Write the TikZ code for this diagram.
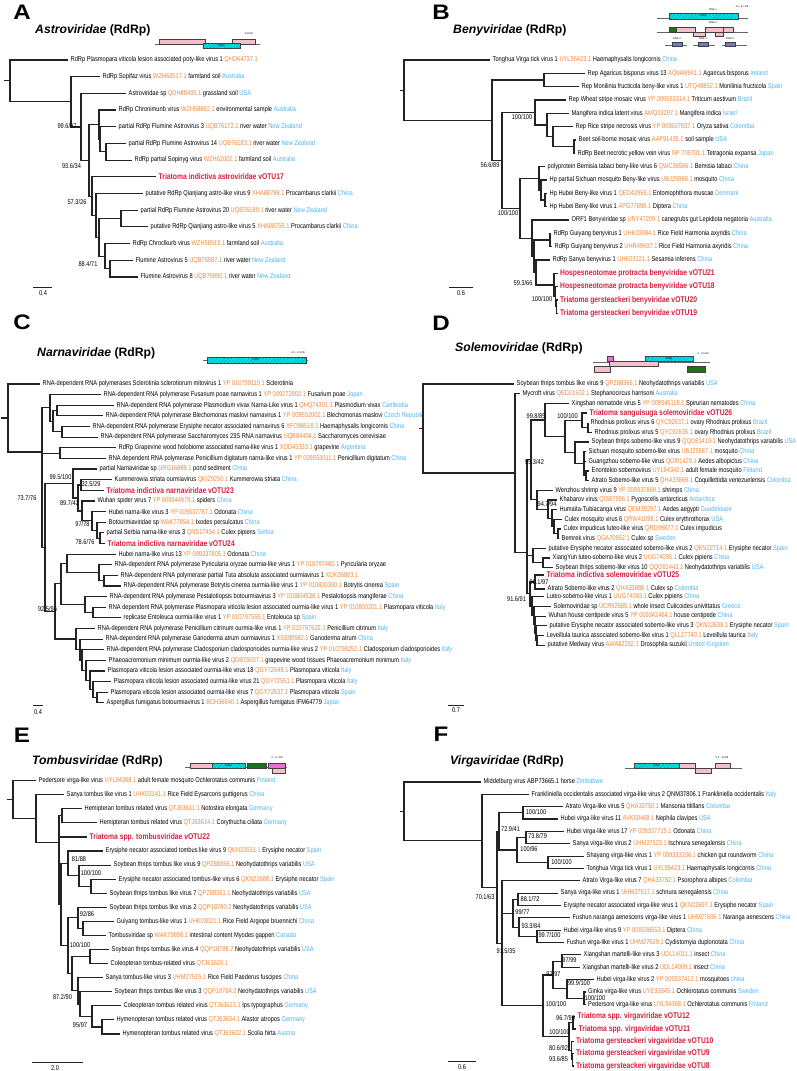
\documentclass[tikz,border=0pt]{standalone}
\usepackage{fontspec}
\setmainfont{Liberation Sans}
\newfontfamily\leaffont[FakeStretch=0.815]{Liberation Sans}
\newfontfamily\panelfont[FakeStretch=1.15]{Liberation Sans}
\usetikzlibrary{patterns.meta}
\definecolor{acco}{RGB}{242,133,54}
\definecolor{ctryc}{RGB}{77,178,236}
\definecolor{vred}{RGB}{214,31,61}
\definecolor{treec}{RGB}{35,35,35}
\definecolor{gpink}{RGB}{246,190,200}
\definecolor{gcyan}{RGB}{0,228,238}
\definecolor{ggreen}{RGB}{25,115,25}
\definecolor{gmag}{RGB}{228,110,220}
\definecolor{gpurp}{RGB}{118,124,186}
\newcommand\acc[1]{\textcolor{acco}{#1}}
\newcommand\ctry[1]{\textcolor{ctryc}{#1}}
\tikzset{
 br/.style={line width=1.15pt, draw=treec},
 lbl/.style={anchor=west, inner sep=0pt, font=\leaffont\fontsize{7}{8}\selectfont, text=black},
 rlbl/.style={anchor=west, inner sep=0pt, font=\leaffont\bfseries\fontsize{8.3}{9}\selectfont, text=vred},
 bs/.style={inner sep=0pt, font=\leaffont\fontsize{6.9}{8}\selectfont},
 ttl/.style={anchor=west, inner sep=0pt, font=\bfseries\fontsize{12.2}{14}\selectfont},
 plet/.style={inner sep=0pt, font=\panelfont\bfseries\fontsize{21}{21}\selectfont},
 sbar/.style={line width=0.9pt, draw=treec},
 gline/.style={draw=black!60, line width=0.35pt},
 gbox/.style={draw=black!75, line width=0.3pt},
 pinkbox/.style={gbox, fill=gpink},
 cyanbox/.style={gbox, fill=gcyan, postaction={pattern={Lines[angle=45,distance=2.5pt,line width=0.25pt]}, pattern color=black!45!gcyan}},
 greenbox/.style={gbox, fill=ggreen},
 magbox/.style={gbox, fill=gmag},
 purpbox/.style={gbox, fill=gpurp},
 tiny/.style={inner sep=0pt, font=\fontsize{2.6}{3}\selectfont},
}
\newcommand\Lf[4]{\coordinate (#1) at ({#2},{#3}); \node[lbl] (#1t) at ([xshift=2.5pt]#1) {#4};}
\newcommand\Lr[4]{\coordinate (#1) at ({#2},{#3}); \node[rlbl] (#1t) at ([xshift=2.5pt]#1) {#4};}
\newcommand\In[3]{\coordinate (#1) at ({#2},{#3});}
\newcommand\E[2]{\foreach \kid in {#2}{\draw[br] (#1) |- (\kid);}}
\newcommand\Bs[4]{\node[bs] (#1) at (#2,#3) {#4};}
\def\ya#1{60+16.69*(#1-1)}
\def\yb#1{60+13.33*(#1-1)}
\def\yc#1{384+10.63*(#1-1)}
\def\yd#1{384+9.67*(#1-1)}
\def\ye#1{780.7+14.07*(#1-1)}
\def\yf#1{782+12.35*(#1-1)}
\begin{document}
\begin{tikzpicture}[x=1pt,y=-1pt]
\useasboundingbox (0,0) rectangle (797,1071);
% ---------------- panel letters and titles
\node[plet] (LA) at (22,12) {A};
\node[plet] (LB) at (441,12) {B};
\node[plet] (LC) at (22,322) {C};
\node[plet] (LD) at (441,323) {D};
\node[plet] (LE) at (22,735) {E};
\node[plet] (LF) at (441,734) {F};
\node[ttl] (TA) at (35,30) {\textit{Astroviridae} (RdRp)};
\node[ttl] (TB) at (453,30) {\textit{Benyviridae} (RdRp)};
\node[ttl] (TC) at (37,353) {\textit{Narnaviridae} (RdRp)};
\node[ttl] (TD) at (455,348) {\textit{Solemoviridae} (RdRp)};
\node[ttl] (TE) at (32,761) {\textit{Tombusviridae} (RdRp)};
\node[ttl] (TF) at (450,761) {\textit{Virgaviridae} (RdRp)};
% ---------------- genome sketches
% A
\draw[gline] (155,43.7) -- (260,43.7);
\draw[pinkbox] (159,39) rectangle (205,44);
\draw[pinkbox] (232,39) rectangle (255,44);
\draw[cyanbox] (203,43.5) rectangle (240,48.5);
\node[tiny] (gA1) at (221.5,46) {RdRp};
\node[tiny] (gA2) at (249,33.5) {6.8 Kb};
% B
\draw[gline] (657,18) -- (748,18);
\draw[cyanbox] (669,13) rectangle (738,19);
\node[tiny] (gB0) at (703.5,16) {RdRp};
\node[tiny] (gB1) at (713,10) {RNA 1};
\node[tiny] (gB2) at (742,7) {13 - 6.7 Kb};
\draw[gline] (657,32) -- (748,32);
\draw[greenbox] (669,27) rectangle (676,32);
\draw[pinkbox] (676,27) rectangle (695,32);
\draw[pinkbox] (693,32) rectangle (705,36);
\draw[pinkbox] (705,27) rectangle (725,32);
\draw[pinkbox] (715,32) rectangle (723,36);
\draw[pinkbox] (723,27) rectangle (733,32);
\node[tiny] (gB3) at (713,23) {RNA 2};
\draw[gline] (665,45.5) -- (687,45.5);
\draw[purpbox] (672,42) rectangle (682,46);
\node[tiny] (gB4) at (677,39) {RNA 3};
\draw[gline] (693,45.5) -- (715,45.5);
\draw[purpbox] (698,42) rectangle (708,46);
\node[tiny] (gB5) at (703,39) {RNA 4};
\draw[gline] (722,45.5) -- (747,45.5);
\draw[purpbox] (725,42) rectangle (735,46);
\node[tiny] (gB6) at (730,39) {RNA 5};
% C
\draw[gline] (203,360) -- (308,360);
\draw[cyanbox] (207,357) rectangle (306,363);
\node[tiny] (gC1) at (256,360) {RdRp};
\node[tiny] (gC2) at (298,353) {2.3 - 2.9 Kb};
% D
\draw[gline] (593,362) -- (710,362);
\draw[magbox] (607,356) rectangle (613,361);
\draw[cyanbox] (645,356) rectangle (693,361);
\node[tiny] (gD1) at (669,358.5) {RdRp};
\draw[pinkbox] (609,361) rectangle (658,366);
\draw[pinkbox] (594,366) rectangle (610,372);
\draw[greenbox] (687,366) rectangle (705,372);
\node[tiny] (gD2) at (703,354) {4 - 4.5 Kb};
% E
\draw[gline] (185,767) -- (287,767);
\draw[pinkbox] (190,763) rectangle (212,768);
\draw[cyanbox] (212,763) rectangle (245,768);
\node[tiny] (gE1) at (228.5,765.5) {RdRp};
\draw[greenbox] (247,763) rectangle (266,768);
\draw[magbox] (268,763) rectangle (285,768);
\draw[pinkbox] (272,768) rectangle (285,773);
\node[tiny] (gE2) at (277,758) {4 - 4.7 Kb};
% F
\draw[gline] (625,768) -- (742,768);
\draw[cyanbox] (634,763) rectangle (679,768);
\node[tiny] (gF1) at (656.5,765.5) {RdRp};
\draw[pinkbox] (679,763) rectangle (695,768);
\draw[pinkbox] (695,768) rectangle (711,773);
\draw[pinkbox] (715,763) rectangle (730,768);
\node[tiny] (gF2) at (722,758) {6.3 - 10 Kb};
% ================= PANEL A
\Lf{a1}{68}{\ya{1}}{RdRp Plasmopara viticola lesion associated poty-like virus 1 \acc{QHD64737.1}}
\Lf{a2}{100}{\ya{2}}{RdRp Sopifaz virus \acc{WZH62017.1} farmland soil \ctry{Australia}}
\Lf{a3}{126}{\ya{3}}{Astroviridae sp \acc{QDH88435.1} grassland soil \ctry{USA}}
\Lf{a4}{116}{\ya{4}}{RdRp Chronimunb virus \acc{WZH58882.1} environmental sample \ctry{Australia}}
\Lf{a5}{116}{\ya{5}}{partial RdRp Flumine Astrovirus 3 \acc{UQB76172.1} river water \ctry{New Zealand}}
\Lf{a6}{126}{\ya{6}}{partial RdRp Flumine Astrovirus 14 \acc{UQB76183.1} river water \ctry{New Zealand}}
\Lf{a7}{132}{\ya{7}}{RdRp partial Sopinyg virus \acc{WZH62002.1} farmland soil \ctry{Australia}}
\Lr{a8}{156}{\ya{8}}{Triatoma indictiva astroviridae vOTU17}
\Lf{a9}{143}{\ya{9}}{putative RdRp Qianjiang astro-like virus 9 \acc{XHA88788.1} Procambarus clarkii \ctry{China}}
\Lf{a10}{138}{\ya{10}}{partial RdRp Flumine Astrovirus 20 \acc{UQB76189.1} river water \ctry{New Zealand}}
\Lf{a11}{148}{\ya{11}}{putative RdRp Qianjiang astro-like virus 5 \acc{XHA88755.1} Procambarus clarkii \ctry{China}}
\Lf{a12}{130}{\ya{12}}{RdRp Chroclkurb virus \acc{WZH58519.1} farmland soil \ctry{Australia}}
\Lf{a13}{133}{\ya{13}}{Flumine Astrovirus 5 \acc{UQB75987.1} river water \ctry{New Zealand}}
\Lf{a14}{138}{\ya{14}}{Flumine Astrovirus 8 \acc{UQB75990.1} river water \ctry{New Zealand}}
\In{aN6}{106}{\ya{6.5}} \In{aN5}{100}{\ya{5.75}} \In{aN4}{99}{\ya{4.875}}
\In{aN11}{110}{\ya{13.5}} \In{aN10}{105}{\ya{12.75}} \In{aN9}{121}{\ya{10.5}}
\In{aN8b}{99}{\ya{11.625}} \In{aN8}{96}{\ya{10.31}} \In{aN7}{92}{\ya{9.16}}
\In{aN3}{89}{\ya{7.02}} \In{aN2}{81}{\ya{5.01}} \In{aN1}{71}{\ya{3.5}} \In{aR}{10}{\ya{2.25}}
\In{aR0}{4}{\ya{2.25}}
\draw[br] (aR0) -- (aR);
\E{aR}{a1,aN1} \E{aN1}{a2,aN2} \E{aN2}{a3,aN3} \E{aN3}{aN4,aN7} \E{aN4}{a4,aN5}
\E{aN5}{a5,aN6} \E{aN6}{a6,a7} \E{aN7}{a8,aN8} \E{aN8}{a9,aN8b} \E{aN8b}{aN9,aN10}
\E{aN9}{a10,a11} \E{aN10}{a12,aN11} \E{aN11}{a13,a14}
\Bs{aB1}{67}{126}{99.6/97} \Bs{aB2}{71.5}{166}{93.6/34} \Bs{aB3}{77}{202}{57.3/26} \Bs{aB4}{88}{264}{88.4/71}
\In{aS1}{33}{287} \In{aS2}{52}{287}
\draw[sbar] (aS1) -- (aS2);
\node[bs] (aSt) at (43,293.5) {0.4};
% ================= PANEL B
\Lf{b1}{490}{\yb{1}}{Tonghua Virga tick virus 1 \acc{UYL95423.1} Haemaphysalis longicornis \ctry{China}}
\Lf{b2}{585}{\yb{2}}{Rep Agaricus bisporus virus 13 \acc{AQM49941.1} Agaricus bisporus \ctry{Ireland}}
\Lf{b3}{579}{\yb{3}}{Rep Monilinia fructicola beny-like virus 1 \acc{UTQ48852.1} Monilinia fructicola \ctry{Spain}}
\Lf{b4}{566}{\yb{4}}{Rep Wheat stripe mosaic virus \acc{YP 009553314.1} Triticum aestivum \ctry{Brazil}}
\Lf{b5}{569}{\yb{5}}{Mangifera indica latent virus \acc{AMQ23297.1} Mangifera indica \ctry{Israel}}
\Lf{b6}{573}{\yb{6}}{Rep Rice stripe necrosis virus \acc{YP 009507937.1} Oryza sativa \ctry{Colombia}}
\Lf{b7}{576}{\yb{7}}{Beet soil-borne mosaic virus \acc{AAF91435.1} soil sample \ctry{USA}}
\Lf{b8}{575}{\yb{8}}{RdRp Beet necrotic yellow vein virus \acc{NP 705701.1} Tetragonia expansa \ctry{Japan}}
\Lf{b9}{545}{\yb{9}}{polyprotein Bemisia tabaci beny-like virus 6 \acc{QWC36506.1} Bemisia tabaci \ctry{China}}
\Lf{b10}{547}{\yb{10}}{Hp partial Sichuan mosquito Beny-like virus \acc{UBJ25988.1} mosquito \ctry{China}}
\Lf{b11}{547}{\yb{11}}{Hp Hubei Beny-like virus 1 \acc{QED42955.1} Entomophthora muscae \ctry{Denmark}}
\Lf{b12}{547}{\yb{12}}{Hp Hubei Beny-like virus 1 \acc{APG77890.1} Diptera \ctry{China}}
\Lf{b13}{569}{\yb{13}}{ORF1 Benyviridae sp \acc{UNY47209.1} canegrubs gut Lepidiota negatoria \ctry{Australia.}}
\Lf{b14}{551}{\yb{14}}{RdRp Guiyang benyvirus 1 \acc{UHK03084.1} Rice Field Harmonia axyridis \ctry{China}}
\Lf{b15}{552}{\yb{15}}{RdRp Guiyang benyvirus 2 \acc{UHR49697.1} Rice Field Harmonia axyridis \ctry{China}}
\Lf{b16}{550}{\yb{16}}{RdRp Sanya benyvirus 1 \acc{UHK03121.1} Sesamia inferens \ctry{China}}
\Lr{b17}{557.5}{\yb{17}}{Hospesneotomae protracta benyviridae vOTU21}
\Lr{b18}{557.5}{\yb{18}}{Hospesneotomae protracta benyviridae vOTU18}
\Lr{b19}{557.5}{\yb{19}}{Triatoma gersteackeri benyviridae vOTU20}
\Lr{b20}{557.5}{\yb{20}}{Triatoma gersteackeri benyviridae vOTU19}
\In{bN8}{574}{\yb{7.5}} \In{bN7}{553}{\yb{6.75}} \In{bN6}{547}{\yb{5.875}} \In{bN4}{535}{\yb{4.94}}
\In{bN2}{544}{\yb{2.5}}
\In{bN12}{545}{\yb{11.5}} \In{bN11}{541}{\yb{10.75}} \In{bN10}{539}{\yb{9.875}}
\In{bG}{550}{\yb{14.5}}
\In{bV3}{556.5}{\yb{19.5}} \In{bV2}{555.5}{\yb{18.75}} \In{bV}{554}{\yb{17.875}}
\In{bN15}{536}{\yb{16.94}} \In{bN14}{534}{\yb{15.72}} \In{bN13}{532}{\yb{14.36}}
\In{bN9}{520}{\yb{12.12}} \In{bN3}{502}{\yb{8.53}} \In{bN1}{492}{\yb{5.52}} \In{bR}{404}{\yb{3.26}}
\In{bR0}{400}{\yb{3.26}}
\draw[br] (bR0) -- (bR);
\E{bR}{b1,bN1} \E{bN1}{bN2,bN3} \E{bN2}{b2,b3} \E{bN3}{bN4,bN9} \E{bN4}{b4,bN6}
\E{bN6}{b5,bN7} \E{bN7}{b6,bN8} \E{bN8}{b7,b8} \E{bN9}{bN10,bN13} \E{bN10}{b9,bN11}
\E{bN11}{b10,bN12} \E{bN12}{b11,b12} \E{bN13}{b13,bN14} \E{bN14}{bG,bN15} \E{bG}{b14,b15}
\E{bN15}{b16,bV} \E{bV}{b17,bV2} \E{bV2}{b18,bV3} \E{bV3}{b19,b20}
\Bs{bB1}{522}{117}{100/100} \Bs{bB2}{490}{165}{56.6/89} \Bs{bB3}{508}{213}{100/100}
\Bs{bB4}{523}{283}{59.3/66} \Bs{bB5}{542}{299}{100/100}
\In{bS1}{449}{287} \In{bS2}{473}{287}
\draw[sbar] (bS1) -- (bS2);
\node[bs] (bSt) at (461,293.5) {0.6};
% ================= PANEL C
\Lf{c1}{40}{\yc{1}}{RNA-dependent RNA polymerases Sclerotinia sclerotiorum mitovirus 1 \acc{YP 010799119.1} Sclerotinia}
\Lf{c2}{101}{\yc{2}}{RNA-dependent RNA polymerase Fusarium poae narnavirus 1 \acc{YP 009272902.1} Fusarium poae \ctry{Japan}}
\Lf{c3}{114}{\yc{3}}{RNA-dependent RNA polymerase Plasmodium vivax Narna-Like virus 1 \acc{QHQ74301.1} Plasmodium vivax \ctry{Cambodia}}
\Lf{c4}{103}{\yc{4}}{RNA-dependent RNA polymerase Blechomonas maslovi narnavirus 1 \acc{YP 009552002.1} Blechomonas maslovi \ctry{Czech Republic}}
\Lf{c5}{90}{\yc{5}}{RNA-dependent RNA polymerase Erysiphe necator associated narnavirus 6 \acc{XFO98518.1} Haemaphysalis longicornis \ctry{China}}
\Lf{c6}{98}{\yc{6}}{RNA-dependent RNA polymerase Saccharomyces 23S RNA narnavirus \acc{UQB84404.1} Saccharomyces cerevisiae}
\Lf{c7}{116}{\yc{7}}{RdRp Grapevine wood holobiome associated narna-like virus 1 \acc{XOD45333.1} grapevine \ctry{Argentina}}
\Lf{c8}{106}{\yc{8}}{RNA dependent RNA polymerase Penicillium digitatum narna-like virus 1 \acc{YP 009553011.1} Penicillium digitatum \ctry{China}}
\Lf{c9}{97}{\yc{9}}{partial Narnaviridae sp \acc{URG16889.1} pond sediment \ctry{China}}
\Lf{c10}{112}{\yc{10}}{Kummerowia striata ourmiavirus \acc{QKI29250.1} Kummerowia striata \ctry{China}}
\Lr{c11}{104}{\yc{11}}{Triatoma indictiva narnaviridae vOTU23}
\Lf{c12}{95}{\yc{12}}{Wuhan spider virus 7 \acc{YP 009344979.1} spiders \ctry{China}}
\Lf{c13}{106}{\yc{13}}{Hubei narna-like virus 3 \acc{YP 009337787.1} Odonata \ctry{China}}
\Lf{c14}{106}{\yc{14}}{Botourmiaviridae sp \acc{WAK77854.1} Ixodes persulcatus \ctry{China}}
\Lf{c15}{104}{\yc{15}}{partial Serbia narna-like virus 3 \acc{QNS17454.1} Culex pipiens \ctry{Serbia}}
\Lr{c16}{105}{\yc{16}}{Triatoma indictiva narnaviridae vOTU24}
\Lf{c17}{116}{\yc{17}}{Hubei narna-like virus 13 \acc{YP 009337805.1} Odonata \ctry{China}}
\Lf{c18}{112}{\yc{18}}{RNA-dependent RNA polymerase Pyricularia oryzae ourmia-like virus 1 \acc{YP 010797480.1} Pyricularia oryzae}
\Lf{c19}{118}{\yc{19}}{RNA-dependent RNA polymerase partial Tuta absoluta associated ourmiavirus 1 \acc{XOK36803.1}}
\Lf{c20}{121}{\yc{20}}{RNA-dependent RNA polymerase Botrytis cinerea ourmia-like virus 1 \acc{YP 010800300.1} Botrytis cinerea \ctry{Spain}}
\Lf{c21}{107}{\yc{21}}{RNA-dependent RNA polymerase Pestalotiopsis botourmiavirus 3 \acc{YP 010804538.1} Pestalotiopsis mangiferae \ctry{China}}
\Lf{c22}{106}{\yc{22}}{RNA dependent RNA polymerase Plasmopara viticola lesion associated ourmia-like virus 1 \acc{YP 010800201.1} Plasmopara viticola \ctry{Italy}}
\Lf{c23}{121}{\yc{23}}{replicase Entoleuca ourmia-like virus 1 \acc{YP 010797555.1} Entoleuca sp \ctry{Spain}}
\Lf{c24}{95}{\yc{24}}{RNA-dependent RNA polymerase Penicillium citrinum ourmia-like virus 1 \acc{YP 010797622.1} Penicillium citrinum \ctry{Italy}}
\Lf{c25}{103}{\yc{25}}{RNA-dependent RNA polymerase Ganoderma atrum ourmiavirus 1 \acc{XSS90582.1} Ganoderma atrum \ctry{China}}
\Lf{c26}{104}{\yc{26}}{RNA-dependent RNA polymerase Cladosporium cladosporioides ourmia-like virus 2 \acc{YP 010798252.1} Cladosporium cladosporioides \ctry{Italy}}
\Lf{c27}{106}{\yc{27}}{Phaeoacremonium minimum ourmia-like virus 2 \acc{QDB75007.1} grapevine wood tissues Phaeoacremonium minimum \ctry{Italy}}
\Lf{c28}{105}{\yc{28}}{Plasmopara viticola lesion associated ourmia-like virus 18 \acc{QGY72548.1} Plasmopara viticola \ctry{Italy}}
\Lf{c29}{111}{\yc{29}}{Plasmopara viticola lesion associated ourmia-like virus 21 \acc{QGY72551.1} Plasmopara viticola \ctry{Italy}}
\Lf{c30}{108}{\yc{30}}{Plasmopara viticola lesion associated ourmia-like virus 7 \acc{QGY72537.1} Plasmopara viticola \ctry{Spain}}
\Lf{c31}{104}{\yc{31}}{Aspergillus fumigatus botourmiavirus 1 \acc{BCH36640.1} Aspergillus fumigatus IFM64779 \ctry{Japan}}
\In{cA3}{57}{\yc{3.5}} \In{cA4}{62}{\yc{5.5}} \In{cA2}{53}{\yc{4.5}} \In{cA}{50}{\yc{3.25}}
\In{cG}{60}{\yc{7.5}}
\In{cK}{81}{\yc{10.5}} \In{cW4}{100}{\yc{15.5}} \In{cW3}{97}{\yc{14.75}} \In{cW2}{92}{\yc{13.875}}
\In{cW}{82}{\yc{12.94}} \In{cP2}{78}{\yc{11.72}} \In{cP}{73}{\yc{10.36}}
\In{cPy2}{104}{\yc{19.5}} \In{cPy}{99}{\yc{18.75}} \In{cPe2}{93}{\yc{22.5}} \In{cPe}{85}{\yc{21.75}}
\In{cH1}{67}{\yc{17.875}} \In{cH}{61}{\yc{19.8}}
\In{cO8}{97}{\yc{30.5}} \In{cO7}{93}{\yc{29.75}} \In{cO6}{90}{\yc{28.875}} \In{cO5}{86}{\yc{27.94}}
\In{cO4}{82}{\yc{26.97}} \In{cO3}{80}{\yc{25.98}} \In{cO2}{76}{\yc{24.99}}
\In{cO}{55}{\yc{22.4}} \In{cM}{45}{\yc{16.4}} \In{cN1}{42}{\yc{7.4}} \In{cR}{8}{\yc{4.2}}
\In{cR0}{1}{\yc{4.2}}
\draw[br] (cR0) -- (cR);
\E{cR}{c1,cN1} \E{cN1}{cA,cG,cM} \E{cA}{c2,cA2} \E{cA2}{cA3,cA4} \E{cA3}{c3,c4} \E{cA4}{c5,c6}
\E{cG}{c7,c8} \E{cM}{cP,cO} \E{cP}{c9,cP2} \E{cP2}{cK,cW} \E{cK}{c10,c11} \E{cW}{c12,cW2}
\E{cW2}{c13,cW3} \E{cW3}{c14,cW4} \E{cW4}{c15,c16}
\E{cO}{cH,cO2} \E{cH}{cH1,cPe} \E{cH1}{c17,cPy} \E{cPy}{c18,cPy2} \E{cPy2}{c19,c20} \E{cPe}{c21,cPe2} \E{cPe2}{c22,c23}
\E{cO2}{c24,cO3} \E{cO3}{c25,cO4} \E{cO4}{c26,cO5} \E{cO5}{c27,cO6} \E{cO6}{c28,cO7} \E{cO7}{c29,cO8} \E{cO8}{c30,c31}
\Bs{cB1}{60.5}{477}{99.5/100} \Bs{cB2}{91}{484}{32.5/29} \Bs{cB3}{27}{498}{73.7/76}
\Bs{cB4}{69.5}{503}{89.7/42} \Bs{cB5}{82.5}{524}{97/78} \Bs{cB6}{85}{542}{78.6/76} \Bs{cB7}{47.5}{609}{92.5/96}
\In{cS1}{33}{705} \In{cS2}{43}{705}
\draw[sbar] (cS1) -- (cS2);
\node[bs] (cSt) at (38,712) {0.4};
% ================= PANEL D
\Lf{d1}{514}{\yd{1}}{Soybean thrips tombus like virus 9 \acc{QPZ88366.1} Neohydatothrips variabilis \ctry{USA}}
\Lf{d2}{520}{\yd{2}}{Mycroft virus \acc{QED21502.1} Stephanocircus harrisoni \ctry{Australia}}
\Lf{d3}{569}{\yd{3}}{Xingshan nematode virus 5 \acc{YP 009345118.1} Spirurian nematodes \ctry{China}}
\Lr{d4}{587}{\yd{4}}{Triatoma sanguisuga solemoviridae vOTU26}
\Lf{d5}{588}{\yd{5}}{Rhodnius prolixus virus 6 \acc{QYC92637.1} ovary Rhodnius prolixus \ctry{Brazil}}
\Lf{d6}{592}{\yd{6}}{Rhodnius prolixus virus 5 \acc{QYC92635.1} ovary Rhodnius prolixus \ctry{Brazil}}
\Lf{d7}{589}{\yd{7}}{Soybean thrips sobemo-like virus 9 \acc{QQO81419.1} Neohydatothrips variabilis \ctry{USA}}
\Lf{d8}{586}{\yd{8}}{Sichuan mosquito sobemo-like virus \acc{UBJ25987.1} mosquito \ctry{China}}
\Lf{d9}{586}{\yd{9}}{Guangzhou sobemo-like virus \acc{QOI91429.1} Aedes albopictus \ctry{China}}
\Lf{d10}{589}{\yd{10}}{Enontekio sobemovirus \acc{UYL94340.1} adult female mosquito \ctry{Finland}}
\Lf{d11}{589}{\yd{11}}{Atrato Sobemo-like virus 5 \acc{QHA33869.1} Coquillettidia venezuelensis \ctry{Colombia}}
\Lf{d12}{553}{\yd{12}}{Wenzhou shrimp virus 9 \acc{YP 009337869.1} shrimps \ctry{China}}
\Lf{d13}{557}{\yd{13}}{Khabarov virus \acc{QIS87996.1} Pygoscelis antarcticus \ctry{Antarctica}}
\Lf{d14}{557}{\yd{14}}{Humaita-Tubiacanga virus \acc{QEM39297.1} Aedes aegypti \ctry{Guadeloupe}}
\Lf{d15}{562}{\yd{15}}{Culex mosquito virus 6 \acc{QRW41098.1} Culex erythrothorax \ctry{USA}}
\Lf{d16}{561}{\yd{16}}{Culex impudicus luteo-like virus \acc{QRD99877.1} Culex impudicus}
\Lf{d17}{559}{\yd{17}}{Bemrek virus \acc{QGA70952.1} Culex sp \ctry{Sweden}}
\Lf{d18}{546}{\yd{18}}{putative Erysiphe necator associated sobemo-like virus 2 \acc{QKN22714.1} Erysiphe necator \ctry{Spain}}
\Lf{d19}{550}{\yd{19}}{XiangYun luteo-sobemo-like virus 2 \acc{UUG74095.1} Culex pipiens \ctry{China}}
\Lf{d20}{553}{\yd{20}}{Soybean thrips sobemo-like virus 10 \acc{QQO81443.1} Neohydatothrips variabilis \ctry{USA}}
\Lr{d21}{544}{575}{Triatoma indictiva solemoviridae vOTU25}
\Lf{d22}{545}{589}{Atrato Sobemo-like virus 2 \acc{QHA33888.1} Culex sp \ctry{Colombia}}
\Lf{d23}{544}{\yd{23}}{Luteo-sobemo-like virus 1 \acc{UUG74093.1} Culex pipiens \ctry{China}}
\Lf{d24}{551}{\yd{24}}{Solemoviridae sp \acc{UCR92585.1} whole insect Culicoides univittatus \ctry{Greece}}
\Lf{d25}{546}{\yd{25}}{Wuhan house centipede virus 5 \acc{YP 009342464.1} house centipede \ctry{China}}
\Lf{d26}{547}{\yd{26}}{putative Erysiphe necator associated sobemo-like virus 3 \acc{QKN22638.1} Erysiphe necator \ctry{Spain}}
\Lf{d27}{544}{\yd{27}}{Leveillula taurica associated sobemo-like virus 1 \acc{QLL27740.1} Leveillula taurica \ctry{Italy}}
\Lf{d28}{545}{\yd{28}}{putative Medway virus \acc{AWA82252.1} Drosophila suzukii \ctry{United Kingdom}}
\In{dRh}{588}{\yd{5.5}} \In{dTS}{582}{\yd{4.75}} \In{dM2}{586}{\yd{10.5}} \In{dM}{584}{\yd{9.25}}
\In{dS}{575}{\yd{8.125}} \In{dT2}{565}{\yd{6.44}} \In{dT}{545}{\yd{4.72}}
\In{dW5}{558}{\yd{16.5}} \In{dW4}{554}{\yd{15.75}} \In{dW3}{552}{\yd{14.875}} \In{dW2}{548}{\yd{13.94}} \In{dW}{537}{\yd{12.97}}
\In{dU}{531}{\yd{8.85}} \In{dE2}{543}{\yd{19.5}} \In{dE}{533}{\yd{18.75}} \In{dV}{535}{582}
\In{dL6}{537}{\yd{27.5}} \In{dL5}{536}{\yd{26.75}} \In{dL4}{535}{\yd{25.875}} \In{dL3}{534}{\yd{24.94}}
\In{dL2}{532}{\yd{23.97}} \In{dL}{530}{\yd{22.7}}
\In{dN2}{527}{\yd{18.4}} \In{dN1}{515}{\yd{10.2}} \In{dR}{423}{\yd{5.6}}
\In{dR0}{419}{\yd{5.6}}
\draw[br] (dR0) -- (dR);
\E{dR}{d1,dN1} \E{dN1}{d2,dN2} \E{dN2}{dU,dE,dL} \E{dU}{dT,dW} \E{dT}{d3,dT2} \E{dT2}{dTS,dS}
\E{dTS}{d4,dRh} \E{dRh}{d5,d6} \E{dS}{d7,dM} \E{dM}{d8,d9,dM2} \E{dM2}{d10,d11}
\E{dW}{d12,dW2} \E{dW2}{d13,dW3} \E{dW3}{d14,dW4} \E{dW4}{d15,dW5} \E{dW5}{d16,d17}
\E{dE}{d18,dE2} \E{dE2}{d19,d20} \E{dL}{dV,dL2} \E{dV}{d21,d22} \E{dL2}{d23,dL3} \E{dL3}{d24,dL4}
\E{dL4}{d25,dL5} \E{dL5}{d26,dL6} \E{dL6}{d27,d28}
\Bs{dB1}{536}{416}{99.8/85} \Bs{dB2}{567.5}{416}{100/100} \Bs{dB3}{534.5}{462}{95.3/42}
\Bs{dB4}{547}{504}{94.7/94} \Bs{dB5}{539}{582.3}{98.1/97} \Bs{dB6}{516.5}{599}{91.6/91}
\In{dS1}{448}{705} \In{dS2}{464}{705}
\draw[sbar] (dS1) -- (dS2);
\node[bs] (dSt) at (456,710) {0.7};
% ================= PANEL E
\Lf{e1}{36}{\ye{1}}{Pedersore virga-like virus \acc{UYL94368.1} adult female mosquito Ochlerotatus communis \ctry{Finland}}
\Lf{e2}{64}{\ye{2}}{Sanya tombus like virus 1 \acc{UHK03141.1} Rice Field Eysarcoris guttigerus \ctry{China}}
\Lf{e3}{82}{\ye{3}}{Hemipteran tombus related virus \acc{QTJ63611.1} Notostira elongata \ctry{Germany}}
\Lf{e4}{97}{\ye{4}}{Hemipteran tombus related virus \acc{QTJ63614.1} Corythucha ciliata \ctry{Germany}}
\Lr{e5}{87}{\ye{5}}{Triatoma spp. tombusviridae vOTU22}
\Lf{e6}{103}{\ye{6}}{Erysiphe necator associated tombus like virus 9 \acc{QKN22631.1} Erysiphe necator \ctry{Spain}}
\Lf{e7}{111}{\ye{7}}{Soybean thrips tombus like virus 9 \acc{QPZ88366.1} Neohydatothrips variabilis \ctry{USA}}
\Lf{e8}{116}{\ye{8}}{Erysiphe necator associated tombus-like virus 6 \acc{QKN22688.1} Erysiphe necator \ctry{Spain}}
\Lf{e9}{107}{\ye{9}}{Soybean thrips tombus like virus 7 \acc{QPZ88361.1} Neohydatothrips variabilis \ctry{USA}}
\Lf{e10}{107}{\ye{10}}{Soybean thrips tombus like virus 2 \acc{QQP18780.2} Neohydatothrips variabilis \ctry{USA}}
\Lf{e11}{114}{\ye{11}}{Guiyang tombus-like virus 1 \acc{UHK03021.1} Rice Field Argiope bruennichi \ctry{China}}
\Lf{e12}{106}{\ye{12}}{Tombusviridae sp \acc{WAK79898.1} intestinal content Myodes gapperi \ctry{Canada}}
\Lf{e13}{109}{\ye{13}}{Soybean thrips tombus like virus 4 \acc{QQP18788.2} Neohydatothrips variabilis \ctry{USA}}
\Lf{e14}{108}{\ye{14}}{Coleopteran tombus-related virus \acc{QTJ63620.1}}
\Lf{e15}{103}{\ye{15}}{Sanya tombus-like virus 3 \acc{UHM27515.1} Rice Field Paederus fuscipes \ctry{China}}
\Lf{e16}{112}{\ye{16}}{Soybean thrips tombus like virus 3 \acc{QQP18784.2} Neohydatothrips variabilis \ctry{USA}}
\Lf{e17}{121}{\ye{17}}{Coleopteran tombus related virus \acc{QTJ63623.1} Ips typographus \ctry{Germany}}
\Lf{e18}{114}{\ye{18}}{Hymenopteran tombus related virus \acc{QTJ63634.1} Alastor atropos \ctry{Germany}}
\Lf{e19}{120}{\ye{19}}{Hymenopteran tombus related virus \acc{QTJ63632.1} Scolia hirta \ctry{Austria}}
\In{eH}{62}{\ye{3.5}} \In{eE9c}{91}{\ye{8.5}} \In{eE9b}{79}{\ye{7.75}} \In{eE9}{68}{\ye{6.875}}
\In{eG2}{83}{\ye{11.5}} \In{eG}{78}{\ye{10.75}} \In{eS4}{90}{\ye{13.5}}
\In{eN10}{102}{\ye{18.5}} \In{eN9}{92}{\ye{17.75}} \In{eN8}{80}{\ye{16.875}} \In{eN7}{78}{\ye{15.94}}
\In{eN6}{72}{\ye{14.72}} \In{eN5}{68}{\ye{12.73}} \In{eN3}{61}{\ye{9.8}} \In{eN2}{59}{\ye{5.4}}
\In{eN1}{36}{\ye{3.7}} \In{eR}{13}{\ye{2.35}}
\In{eR0}{7}{\ye{2.35}}
\draw[br] (eR0) -- (eR);
\E{eR}{e1,eN1} \E{eN1}{e2,eN2} \E{eN2}{eH,e5,eN3} \E{eH}{e3,e4} \E{eN3}{eE9,eN5}
\E{eE9}{e6,eE9b} \E{eE9b}{e7,eE9c} \E{eE9c}{e8,e9} \E{eN5}{eG,eN6} \E{eG}{e10,eG2} \E{eG2}{e11,e12}
\E{eN6}{eS4,eN7} \E{eS4}{e13,e14} \E{eN7}{e15,eN8} \E{eN8}{e16,eN9} \E{eN9}{e17,eN10} \E{eN10}{e18,e19}
\Bs{eB1}{79}{859}{81/88} \Bs{eB2}{91}{873}{100/100} \Bs{eB3}{87}{914}{92/86}
\Bs{eB4}{80}{945}{100/100} \Bs{eB5}{62.5}{997}{87.2/90} \Bs{eB6}{80}{1025}{95/97}
\In{eS1}{32}{1062} \In{eS2}{83}{1062}
\draw[sbar] (eS1) -- (eS2);
\node[bs] (eSt) at (55,1068) {2.0};
% ================= PANEL F
\Lf{f1}{481}{\yf{1}}{Middelburg virus ABP73665.1 horse \ctry{Zimbabwe}}
\Lf{f2}{529}{\yf{2}}{Frankliniella occidentalis associated virga-like virus 2 QNM37806.1 Frankliniella occidentalis \ctry{Italy}}
\Lf{f3}{563}{\yf{3}}{Atrato Virga-like virus 5 \acc{QHA33750.1} Mansonia titillans \ctry{Colombia}}
\Lf{f4}{558}{\yf{4}}{Hubei virga-like virus 11 \acc{AVK59469.1} Nephila clavipes \ctry{USA}}
\Lf{f5}{564}{\yf{5}}{Hubei virga-like virus 17 \acc{YP 009337715.1} Odonata \ctry{China}}
\Lf{f6}{570}{\yf{6}}{Sanya virga-like virus 2 \acc{UHM27523.1} Ischnura senegalensis \ctry{China}}
\Lf{f7}{584}{\yf{7}}{Shayang virga-like virus 1 \acc{YP 009333206.1} chicken gut roundworm \ctry{China}}
\Lf{f8}{584}{\yf{8}}{Tonghua Virga tick virus 1 \acc{UYL95423.1} Haemaphysalis longicornis \ctry{China}}
\Lf{f9}{580}{\yf{9}}{Atrato Virga-like virus 7 \acc{QHA33782.1} Psorophora albipes \ctry{Colombia}}
\Lf{f10}{558}{\yf{10}}{Sanya virga-like virus 1 \acc{UHM27517.1} schnura senegalensis \ctry{China}}
\Lf{f11}{561}{\yf{11}}{Erysiphe necator associated virga-like virus 1 \acc{QKN22697.1} Erysiphe necator \ctry{Spain}}
\Lf{f12}{570}{\yf{12}}{Fushun naranga aenescens virga-like virus 1 \acc{UHM27606.1} Naranga aenescens \ctry{China}}
\Lf{f13}{561}{\yf{13}}{Hubei virga-like virus 9 \acc{YP 009336553.1} Diptera \ctry{China}}
\Lf{f14}{564}{\yf{14}}{Fushun virga-like virus 1 \acc{UHM27629.1} Cydistomyia duplonotata \ctry{China}}
\Lf{f15}{581}{\yf{15}}{Xiangshan martelli-like virus 3 \acc{UDL14011.1} insect \ctry{China}}
\Lf{f16}{580}{\yf{16}}{Xiangshan martelli-like virus 2 \acc{UDL14009.1} insect \ctry{China}}
\Lf{f17}{594}{\yf{17}}{Hubei virga-like virus 2 \acc{YP 009337412.1} mosquitoes \ctry{china}}
\Lf{f18}{585.5}{\yf{18}}{Ginka virga-like virus \acc{UYE93845.1} Ochlerotatus communis \ctry{Sweden}}
\Lf{f19}{585.5}{\yf{19}}{Pedersore virga-like virus \acc{UYL94368.1} Ochlerotatus communis \ctry{Finland}}
\Lr{f20}{575}{\yf{20}}{Triatoma spp. virgaviridae vOTU12}
\Lr{f21}{576}{\yf{21}}{Triatoma spp. virgaviridae vOTU11}
\Lr{f22}{573.5}{\yf{22}}{Triatoma gersteackeri virgaviridae vOTU10}
\Lr{f23}{573.5}{\yf{23}}{Triatoma gersteackeri virgaviridae vOTU9}
\Lr{f24}{573.5}{\yf{24}}{Triatoma gersteackeri virgaviridae vOTU8}
\In{fAH}{523}{\yf{3.5}} \In{fHS}{526}{\yf{5.5}} \In{fST}{548}{\yf{7.5}} \In{fB}{517}{\yf{6.5}} \In{fA}{499}{\yf{5}}
\In{fS}{518}{\yf{10.5}} \In{fF2}{537}{\yf{13.5}} \In{fF}{519}{\yf{12.75}} \In{fM}{513}{\yf{11.625}}
\In{fXi}{562}{\yf{15.5}} \In{fG}{584}{\yf{18.5}} \In{fH}{567}{\yf{17.75}} \In{fX}{553}{\yf{16.625}}
\In{fV1}{573}{\yf{20.5}} \In{fV3}{572.5}{\yf{23.5}} \In{fV2}{571.5}{\yf{22.75}} \In{fV}{569}{\yf{21.625}}
\In{fD}{543}{\yf{19.125}} \In{fN3}{502}{\yf{14.06}} \In{fN2}{497}{\yf{9.53}} \In{fN1}{482}{\yf{5.77}} \In{fR}{404}{\yf{3.38}}
\In{fR0}{400}{\yf{3.38}}
\draw[br] (fR0) -- (fR);
\E{fR}{f1,fN1} \E{fN1}{f2,fN2} \E{fN2}{fA,fN3} \E{fA}{fAH,fB} \E{fAH}{f3,f4} \E{fB}{fHS,fST}
\E{fHS}{f5,f6} \E{fST}{f7,f8} \E{fN3}{f9,fM,fD} \E{fM}{fS,fF} \E{fS}{f10,f11} \E{fF}{f12,fF2} \E{fF2}{f13,f14}
\E{fD}{fX,fV} \E{fX}{fXi,fH} \E{fXi}{f15,f16} \E{fH}{f17,fG} \E{fG}{f18,f19}
\E{fV}{fV1,fV2} \E{fV1}{f20,f21} \E{fV2}{f22,fV3} \E{fV3}{f23,f24}
\Bs{fB1}{536}{812}{100/100} \Bs{fB2}{510.5}{829}{72.9/41} \Bs{fB3}{537.5}{836}{73.8/79}
\Bs{fB4}{529}{849}{100/96} \Bs{fB5}{561.5}{862}{100/100} \Bs{fB6}{485}{897}{70.1/63}
\Bs{fB7}{530}{899}{88.1/72} \Bs{fB8}{522.5}{912}{99/77} \Bs{fB9}{531}{926}{93.3/84}
\Bs{fB10}{549.5}{935}{99.7/100} \Bs{fB11}{506}{951}{91.5/35} \Bs{fB12}{569.5}{960}{97/99}
\Bs{fB13}{553.5}{974}{97/97} \Bs{fB14}{579}{983}{99.9/100} \Bs{fB15}{595}{998}{100/100}
\Bs{fB16}{556}{1004}{100/100} \Bs{fB17}{565.5}{1018}{96.7/99} \Bs{fB18}{559.5}{1032}{100/100}
\Bs{fB19}{558.5}{1048}{80.6/92} \Bs{fB20}{558.5}{1059}{93.6/85}
\In{fS1}{448}{1061} \In{fS2}{476}{1061}
\draw[sbar] (fS1) -- (fS2);
\node[bs] (fSt) at (462,1067) {0.6};
\end{tikzpicture}
\end{document}
